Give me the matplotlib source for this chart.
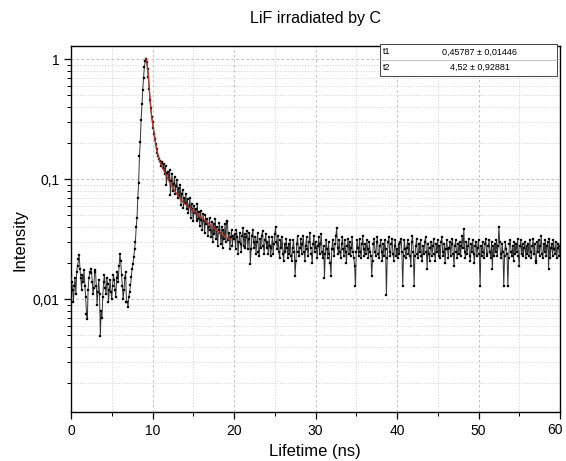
import numpy as np
import matplotlib
matplotlib.use("Agg")
import matplotlib.pyplot as plt
from matplotlib.ticker import MultipleLocator, LogLocator, FixedLocator, FuncFormatter, NullFormatter
from matplotlib.patches import Rectangle

plt.rcParams["font.family"] = ["Liberation Sans", "DejaVu Sans"]

# Decay data, intensity x 1e-4, one value per 0.1 ns bin starting at 0 ns
pre_peak = [160, 140, 120, 95, 130, 150, 110, 170, 190, 215,
            235, 180, 150, 120, 160, 140, 175, 130, 105, 75,
            68, 120, 150, 170, 165, 180, 140, 110, 125, 170,
            175, 130, 90, 115, 145, 110, 49, 80, 70, 105,
            140, 160, 125, 110, 150, 135, 95, 120, 145, 115,
            100, 130, 160, 145, 120, 105, 150, 170, 140, 190,
            240, 210, 160, 130, 100, 120, 150, 170, 95, 95]
rise = [87, 105, 116, 131, 154, 180, 198, 226, 260,
        300, 400, 480, 700, 940, 1550, 2060, 3100, 4200, 5500,
        7000, 8600, 9600, 10000]
decay = [9500, 8300, 7100, 5700, 4600, 3900, 3300, 3000, 2700, 2400,
         2150, 1950, 1800, 1650, 1560, 1480, 1420, 1380, 1290, 1400,
         1250, 1350, 1100, 1300, 900, 1120, 1150, 980, 1200, 740,
         960, 1100, 800, 920, 1050, 750, 880, 980, 700, 850,
         720, 900, 610, 760, 820, 580, 700, 640, 760, 560,
         680, 520, 600, 700, 480, 620, 560, 450, 600, 520,
         560, 450, 620, 470, 530, 410, 540, 460, 380, 510,
         450, 360, 500, 420, 470, 340, 400, 480, 380, 330,
         440, 300, 420, 350, 470, 320, 400, 280, 380, 430,
         360, 290, 400, 270, 380, 320, 420, 300, 450, 440,
         310, 360, 260, 330, 380, 280, 340, 320]
background = [350, 260, 380, 330, 240, 300, 360, 290, 250, 340,
              390, 280, 350, 270, 330, 370, 260, 320, 360, 198,
              260, 340, 380, 300, 270, 330, 240, 300, 360, 250,
              230, 320, 270, 340, 370, 280, 240, 310, 350, 270,
              300, 240, 330, 280, 230, 270, 330, 240, 290, 350,
              400, 300, 260, 340, 250, 220, 310, 270, 330, 240,
              210, 290, 250, 320, 270, 220, 290, 240, 310, 230,
              210, 270, 310, 250, 157, 210, 290, 340, 250, 230,
              270, 320, 240, 290, 340, 250, 210, 280, 330, 260,
              230, 300, 360, 270, 240, 200, 290, 340, 250, 300,
              270, 220, 280, 330, 240, 290, 350, 250, 220, 280,
              149, 240, 310, 260, 220, 300, 240, 200, 157, 260,
              310, 260, 230, 290, 340, 390, 270, 240, 310, 250,
              220, 290, 330, 260, 230, 310, 250, 200, 280, 320,
              240, 300, 230, 270, 330, 250, 220, 190, 128, 250,
              310, 270, 230, 320, 250, 220, 290, 340, 260, 230,
              290, 240, 310, 260, 220, 300, 250, 230, 157, 210,
              290, 320, 250, 230, 300, 330, 240, 220, 280, 310,
              250, 210, 290, 230, 310, 260, 108, 220, 300, 330,
              250, 230, 290, 320, 240, 210, 280, 310, 230, 260,
              220, 290, 240, 300, 320, 250, 128, 230, 310, 260,
              220, 270, 310, 240, 290, 230, 190, 300, 340, 250,
              128, 230, 280, 320, 240, 220, 290, 250, 310, 230,
              210, 280, 240, 300, 330, 250, 180, 290, 240, 210,
              270, 300, 230, 280, 320, 240, 210, 290, 250, 310,
              230, 280, 220, 300, 330, 250, 230, 290, 200, 260,
              310, 260, 220, 270, 300, 230, 290, 320, 240, 190,
              280, 310, 250, 220, 290, 240, 300, 230, 280, 340,
              270, 385, 250, 220, 300, 240, 280, 320, 230, 210,
              290, 250, 310, 240, 200, 280, 300, 230, 270, 310,
              240, 128, 280, 230, 300, 250, 220, 290, 320, 240,
              230, 280, 310, 250, 220, 300, 180, 280, 230, 290,
              250, 310, 230, 280, 400, 300, 240, 220, 290, 250,
              128, 230, 300, 260, 240, 128, 220, 290, 310, 250,
              230, 280, 210, 300, 240, 290, 250, 320, 230, 190,
              280, 310, 240, 290, 230, 270, 300, 220, 280, 240,
              290, 230, 310, 250, 220, 280, 320, 240, 290, 200,
              210, 300, 250, 310, 230, 280, 340, 240, 220, 290,
              250, 310, 230, 280, 300, 180, 320, 220, 270, 290,
              230, 310, 260, 240, 300, 220, 270, 290, 230, 280]
intensity = np.array(pre_peak + rise + decay + background) * 1e-4
lifetime = np.round(np.arange(len(intensity)) * 0.1, 1)

# Fit curve
fit_t = [9.2, 9.3, 9.4, 9.5, 9.6, 9.7, 9.8, 9.9, 10.0, 10.2, 10.4, 10.6, 10.8,
         11.0, 11.3, 11.6, 12.0, 12.5, 13.0, 13.5, 14.0, 15.0, 16.0, 17.0,
         18.0, 19.0, 19.6]
fit_v = [1.0, 0.95, 0.83, 0.71, 0.57, 0.46, 0.39, 0.33, 0.30, 0.24, 0.195,
         0.165, 0.148, 0.135, 0.122, 0.111, 0.098, 0.085, 0.075, 0.067, 0.062,
         0.055, 0.048, 0.042, 0.037, 0.033, 0.031]

x_ticks = [0, 10, 20, 30, 40, 50, 60]
param_names = ["t1", "t2"]
param_values = ["0,45787 \u00b1 0,01446", "4,52 \u00b1 0,92881"]

W, H = 566, 461
fig = plt.figure(figsize=(W / 100, H / 100), dpi=100)
ax = fig.add_axes([71 / W, 1 - 412 / H, 489 / W, 366 / H])

ax.plot(lifetime, intensity, color="#333333", lw=0.7, marker="s", ms=1.8,
        mfc="black", mec="black", mew=0.2, zorder=3)
ax.plot(fit_t, fit_v, color="#b8332b", lw=1.0, zorder=4)

ax.set_yscale("log")
ax.set_xlim(0, 60)
ax.set_ylim(1.15e-3, 1.29)

ax.set_xticks(x_ticks)
# last label is placed by hand so it stays inside the figure
ax.set_xticklabels([str(v) for v in x_ticks[:-1]] + [""])
ax.xaxis.set_minor_locator(MultipleLocator(5))
ax.yaxis.set_major_locator(FixedLocator([0.001, 0.01, 0.1, 1]))
ax.yaxis.set_minor_locator(LogLocator(base=10, subs=np.arange(2, 10)))
ax.yaxis.set_minor_formatter(NullFormatter())
ax.yaxis.set_major_formatter(FuncFormatter(
    lambda v, p: {1: "1", 0.1: "0,1", 0.01: "0,01"}.get(round(v, 6), "")))

ax.tick_params(which="major", direction="out", length=5, width=0.9, labelsize=10)
ax.tick_params(which="minor", direction="out", length=3, width=0.7)
for s in ax.spines.values():
    s.set_linewidth(1.0)

ax.grid(which="major", ls=(0, (3, 3)), color="#b8b8b8", lw=0.6)
ax.grid(which="minor", ls=(0, (2, 2)), color="#d0d0d0", lw=0.5)
ax.set_axisbelow(True)

# Parameter table in the top right
bx0, bx1 = (380 - 71) / 489, (557 - 71) / 489
by0, by1, bym = 1 - (76 - 46) / 366, 1 - (44 - 46) / 366, 1 - (60 - 46) / 366
ax.add_patch(Rectangle((bx0, by0), bx1 - bx0, by1 - by0, transform=ax.transAxes,
                       facecolor="white", edgecolor="#444444", lw=0.7, zorder=6,
                       clip_on=False))
ax.plot([bx0, bx1], [bym, bym], transform=ax.transAxes, color="#aaaaaa",
        lw=0.5, zorder=7, clip_on=False)
for i, (n, v) in enumerate(zip(param_names, param_values)):
    yy = [1 - (52 - 46) / 366, 1 - (67 - 46) / 366][i]
    ax.text(bx0 + 0.006, yy, n, transform=ax.transAxes, fontsize=6.5,
            va="center", ha="left", zorder=8)
    ax.text((480 - 71) / 489, yy, v, transform=ax.transAxes, fontsize=6.5,
            va="center", ha="center", zorder=8)

fig.text(555 / W, 1 - 430 / H, str(x_ticks[-1]), ha="center", va="center",
         fontsize=10)
fig.text(315 / W, 1 - 18 / H, "LiF irradiated by C", ha="center", va="center",
         fontsize=11.5)
fig.text(315 / W, 1 - 451 / H, "Lifetime (ns)", ha="center", va="center",
         fontsize=12)
fig.text(20 / W, 1 - 240 / H, "Intensity", ha="center", va="center",
         rotation=90, fontsize=12)

fig.savefig("out.png", dpi=100)
